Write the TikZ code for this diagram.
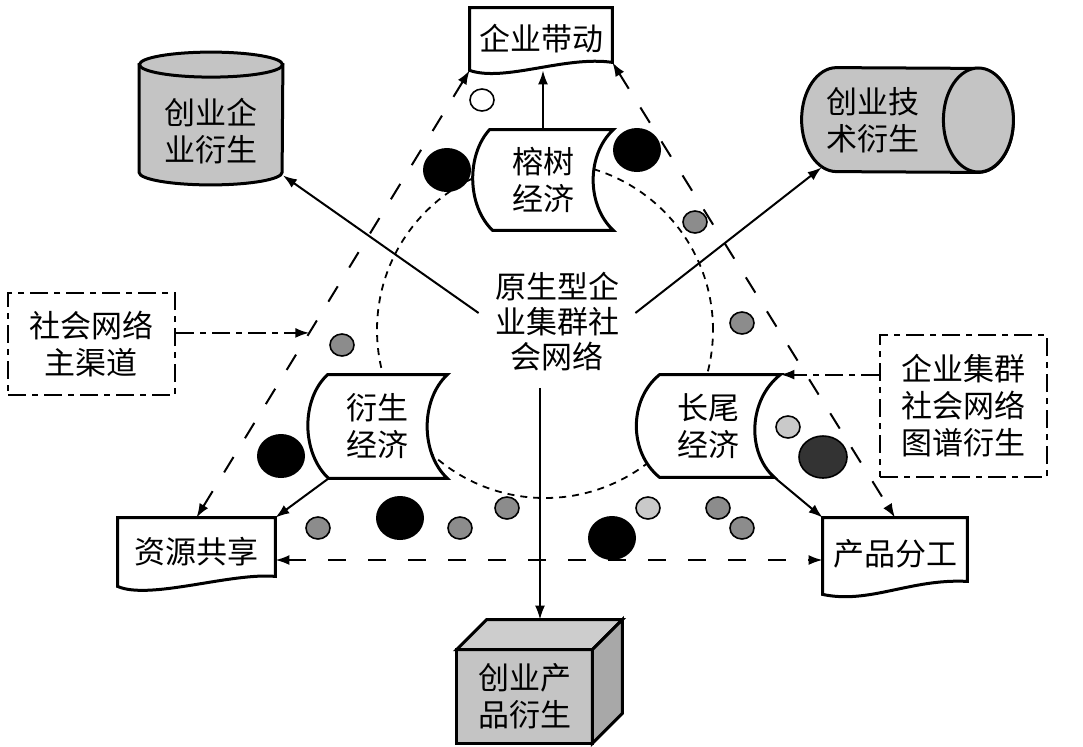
\documentclass[tikz,border=0pt]{standalone}
\usepackage{fontspec}
\newfontfamily\cjk{Noto Sans CJK SC}
\usepackage{xcolor}
\usepackage{tikz}
\usetikzlibrary{arrows.meta,calc,backgrounds}

\definecolor{boxgray}{gray}{0.77}
\definecolor{sidegray}{gray}{0.66}
\definecolor{dotmid}{gray}{0.55}
\definecolor{dotlight}{gray}{0.79}
\definecolor{dotdark}{gray}{0.2}

\begin{document}
\begin{tikzpicture}[
  x=0.5pt, y=-0.5pt,
  >={Latex[length=7pt,width=5pt]},
  every node/.style={font=\cjk\fontsize{15.5}{18.5}\selectfont, align=center, inner sep=0pt},
  outline/.style={line width=1.5pt},
  link/.style={->, line width=1pt},
  trilink/.style={<->, line width=1pt, dash pattern=on 9pt off 11pt},
  chain/.style={line width=1pt, dash pattern=on 9pt off 3pt on 3pt off 3pt},
  ring/.style={line width=0.9pt, dash pattern=on 3.5pt off 3pt},
  dot/.style={draw, line width=0.8pt, fill=#1},
  blob/.style={fill=#1},
]
\useasboundingbox (0,0) rectangle (1083,746);

% --- text of every part
\node (core) at (557,322) [inner sep=8pt, font=\cjk\fontsize{15.5}{17.5}\selectfont] {原生型企\\业集群社\\会网络};
\node (lead) at (541,39) [minimum width=71pt, minimum height=31pt] {企业带动};
\node (banyan) at (543,180) [minimum width=70pt, minimum height=50pt] {榕树\\经济};
\node (derive) at (377.5,426.5) [minimum width=69.5pt, minimum height=51.5pt] {衍生\\经济};
\node (longtail) at (708.5,426) [minimum width=71.5pt, minimum height=51pt] {长尾\\经济};
\node (share) at (196.5,552) [minimum width=78.5pt, minimum height=34pt] {资源共享};
\node (split) at (895,554) [minimum width=72pt, minimum height=36pt] {产品分工};
\node (spawnfirm) at (211,131.5) [minimum width=71.5pt, minimum height=53.5pt] {创业企\\业衍生};
\node (spawntech) at (872.5,120) [minimum width=70.5pt, minimum height=52pt] {创业技\\术衍生};
\node (spawnprod) at (524.5,696.5) [minimum width=67.5pt, minimum height=46.5pt] {创业产\\品衍生};
\node (channel) at (91.5,344) [draw, chain, minimum width=83.5pt, minimum height=51pt] {社会网络\\主渠道};
\node (atlas) at (963.5,406) [draw, chain, minimum width=83.5pt, minimum height=71pt] {企业集群\\社会网络\\图谱衍生};

\begin{scope}[on background layer]
  % dotted ring round the core
  \draw[ring] (545,330) circle[radius=84pt];
  % documents with a wavy foot
  \filldraw[outline, fill=white] (lead.south west) -- (lead.north west) -- (lead.north east)
    -- ([yshift=4pt]lead.south east) .. controls +(-47,-7) and +(35,12) .. (lead.south west) -- cycle;
  \filldraw[outline, fill=white] (share.south west) -- (share.north west) -- (share.north east)
    -- ([yshift=5pt]share.south east) .. controls +(-45,-4) and +(32,14) .. (share.south west) -- cycle;
  \filldraw[outline, fill=white] ([yshift=-2pt]split.south west) -- (split.north west) -- (split.north east)
    -- ([yshift=4.5pt]split.south east) .. controls +(-57,-3) and +(47,10) .. ([yshift=-2pt]split.south west) -- cycle;
  % stored-data shapes
  \filldraw[outline, fill=white] ([xshift=8.5pt]banyan.north west) -- (banyan.north east)
    .. controls +(-27,25) and +(-27,-25) .. (banyan.south east) -- ([xshift=10pt]banyan.south west)
    .. controls +(-26,-25) and +(-23,25) .. ([xshift=8.5pt]banyan.north west) -- cycle;
  \filldraw[outline, fill=white] ([xshift=10pt]derive.north west) -- (derive.north east)
    .. controls +(-27,25) and +(-27,-25) .. (derive.south east) -- ([xshift=10.5pt]derive.south west)
    .. controls +(-27,-25) and +(-27,25) .. ([xshift=10pt]derive.north west) -- cycle;
  \filldraw[outline, fill=white] ([xshift=11.5pt]longtail.north west) -- (longtail.north east)
    .. controls +(-32,25) and +(-28,-25) .. ([xshift=-3pt]longtail.south east) -- ([xshift=11.5pt]longtail.south west)
    .. controls +(-31,-25) and +(-31,25) .. ([xshift=11.5pt]longtail.north west) -- cycle;
  % upright cylinder
  \filldraw[outline, fill=boxgray] ([yshift=6.5pt]spawnfirm.north west) -- ([yshift=6.5pt]spawnfirm.south west)
    arc[start angle=180, end angle=360, x radius=35.75pt, y radius=6.25pt]
    -- ([yshift=6.5pt]spawnfirm.north east) -- cycle;
  \filldraw[outline, fill=boxgray] ([yshift=6.5pt]spawnfirm.north) ellipse[x radius=35.75pt, y radius=6.25pt];
  % lying cylinder
  \filldraw[outline, fill=boxgray] ([xshift=17.5pt]spawntech.north west)
    arc[start angle=90, end angle=270, x radius=17.5pt, y radius=26pt]
    -- ([xshift=17.5pt]spawntech.south east)
    arc[start angle=-90, end angle=90, x radius=17.5pt, y radius=26pt] -- cycle;
  \filldraw[outline, fill=boxgray] ([xshift=17.5pt]spawntech.east) ellipse[x radius=17.5pt, y radius=26pt];
  % box
  \filldraw[outline, fill=boxgray] (spawnprod.north west) rectangle (spawnprod.south east);
  \filldraw[outline, fill=boxgray!85!white] (spawnprod.north west) -- ++(15pt,15pt)
    -- ([shift={(15pt,15pt)}]spawnprod.north east) -- (spawnprod.north east) -- cycle;
  \filldraw[outline, fill=sidegray] (spawnprod.north east) -- ++(15pt,15pt)
    -- ([shift={(15pt,15pt)}]spawnprod.south east) -- (spawnprod.south east) -- cycle;
\end{scope}

% --- solid links
\draw[link] (banyan.north) -- (banyan.north |- lead.south);
\draw[link] ([yshift=4.5pt]core.west) -- ([yshift=5pt]spawnfirm.south east);
\draw[link] ([yshift=4.5pt]core.east) -- ([xshift=10pt,yshift=2.5pt]spawntech.south west);
\coordinate (drop) at ([xshift=7.75pt, yshift=15pt]spawnprod.north);
\draw[link] (core.south -| drop) -- (drop);
\draw[link] ([xshift=10.5pt]derive.south west) -- (share.north east);
\draw[link] ([xshift=-3pt]longtail.south east) -- (split.north west);

% --- dashed triangle
\draw[trilink] (lead.south west) -- (share.north);
\draw[trilink] ([yshift=4pt]lead.south east) -- (split.north);
\coordinate (sharetip) at ([yshift=-4pt]share.east);
\draw[trilink] (sharetip) -- (sharetip -| split.west);

% --- dash-dot feeds
\coordinate (hit) at ($(lead.south west)!0.587!(share.north)$);
\draw[chain, ->] (channel.east |- hit) -- (hit);
\draw[chain, ->] (atlas.west |- longtail.north) -- (longtail.north east);

% --- scattered members
\foreach \x/\y/\c in {482/100/white, 695/222/dotmid, 742/323/dotmid, 342/345/dotmid,
    318/528/dotmid, 460/528/dotmid, 507/508/dotmid, 648/508/dotlight,
    718/508/dotmid, 742/528/dotmid, 788/427/dotlight}
  \filldraw[dot=\c] (\x,\y) ellipse[x radius=6pt, y radius=5.5pt];
\foreach \x/\y in {447/170, 637/150, 281/456, 400/518, 612/538}
  \fill[blob=black] (\x,\y) ellipse[x radius=12pt, y radius=11pt];
\filldraw[dot=dotdark] (823,457) ellipse[x radius=12pt, y radius=10.5pt];
\end{tikzpicture}
\end{document}
